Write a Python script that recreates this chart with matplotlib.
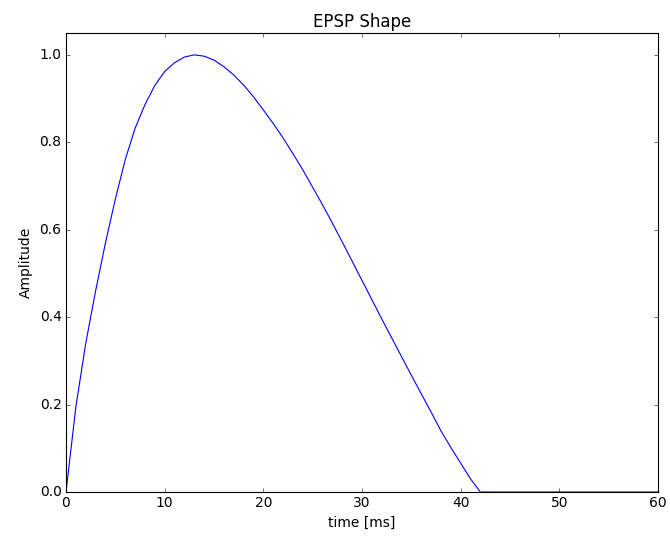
import matplotlib
matplotlib.use("Agg")
import matplotlib.pyplot as plt

# EPSP kernel at 1 ms steps
t_ms = list(range(0, 61))
amp = [0.0, 0.195, 0.34, 0.46, 0.57, 0.67, 0.76, 0.832, 0.886, 0.93,
       0.962, 0.982, 0.995, 1.0, 0.997, 0.988, 0.973, 0.954, 0.931, 0.904,
       0.874, 0.843, 0.81, 0.774, 0.737, 0.697, 0.657, 0.615, 0.572, 0.528,
       0.484, 0.44, 0.396, 0.353, 0.31, 0.267, 0.225, 0.183, 0.14, 0.102,
       0.066, 0.03, 0.0] + [0.0] * 18

plt.style.use("classic")
plt.rcParams["font.size"] = 12.5
fig = plt.figure(figsize=(670 / 80, 536 / 80), dpi=80, facecolor="white")
ax = fig.add_axes([66 / 670, 1 - 492 / 536, (658 - 66) / 670, (492 - 33) / 536])
ax.plot(t_ms, amp, "b-", linewidth=1.0)
ax.set_xlim(0, 60)
ax.set_ylim(0, 1.05)
ax.set_title("EPSP Shape")
ax.set_xlabel("time [ms]")
ax.set_ylabel("Amplitude", labelpad=6)

fig.savefig("out.png", dpi=80, facecolor="white")
